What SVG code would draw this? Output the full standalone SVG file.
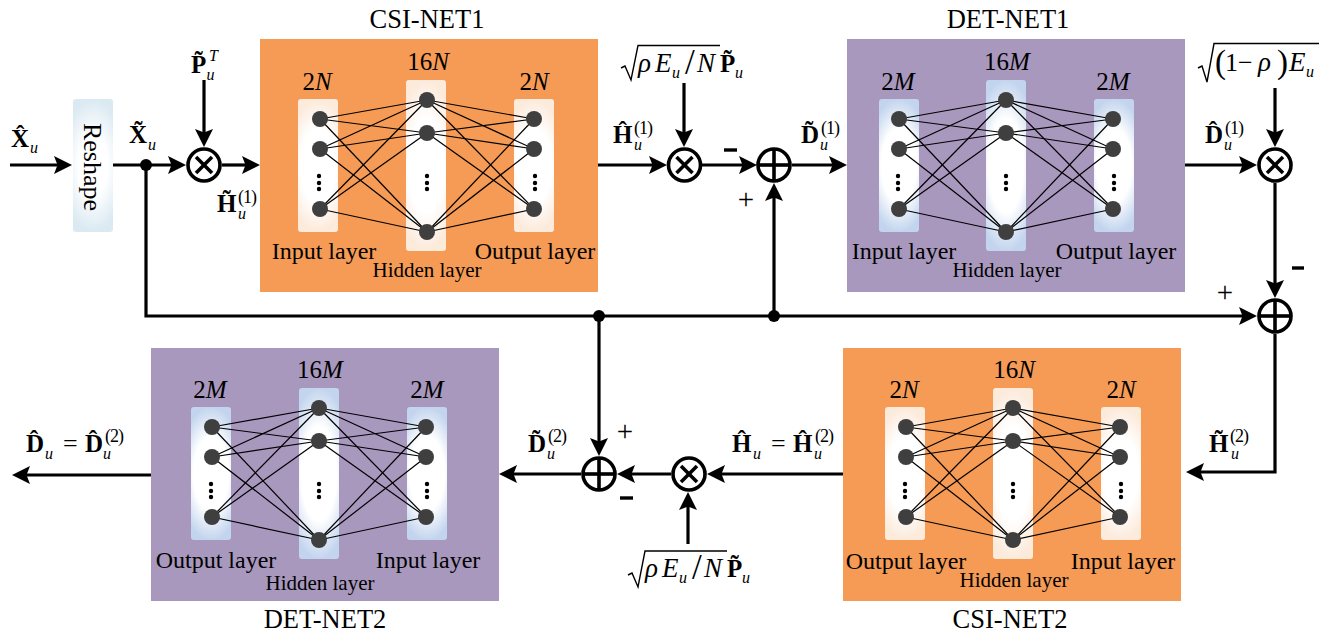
<svg xmlns="http://www.w3.org/2000/svg" width="1329" height="637" viewBox="0 0 1329 637">
<style>
text{font-family:"Liberation Serif","Times New Roman",serif;fill:#000}
.t{font-size:26.500px;text-anchor:middle}
.l{font-size:24px;text-anchor:middle}
.h{font-size:21px;text-anchor:middle}
.n{font-size:25px;text-anchor:middle}
.n tspan,.i{font-style:italic}
.b{font-size:25px;font-weight:bold}
.s{font-size:16px;font-style:italic}
.p{font-size:18px;letter-spacing:-1px}
.m{font-size:26px}
.mi{font-size:27px;font-style:italic}
.sl{font-size:35px}
.bp{font-size:33px}
.pm{font-size:29px;text-anchor:middle}
.c line,.c path{fill:none;stroke:#000;stroke-width:3.2}
.a{marker-end:url(#arrow)}
.c .mn{stroke-width:3.4}
.op circle{fill:#fff;stroke:#000;stroke-width:3.6}
.op line{stroke:#000;stroke-width:3.6}
.dot{fill:#000}
.rad{fill:none;stroke:#000;stroke-width:1.4}
.bg-o{fill:#F59B56}
.bg-p{fill:#A998BE}
.bar-o{fill:url(#go)}
.bar-p{fill:url(#gp)}
.w line{stroke:#000;stroke-width:1.2}
.w circle.k{fill:#3f3f3f}
</style>
<defs>
<marker id="arrow" markerUnits="userSpaceOnUse" markerWidth="20" markerHeight="20" refX="12" refY="10" orient="auto"><path d="M0 1 L18 10 L0 19 L3.500 10 Z" fill="#000"/></marker>
<radialGradient id="go" cx=".5" cy=".5" r=".5" gradientTransform="translate(.5 .5) scale(1.6 1) translate(-.5 -.5)"><stop offset=".55" stop-color="#fff"/><stop offset="1" stop-color="#FCEADB"/></radialGradient>
<radialGradient id="gp" cx=".5" cy=".5" r=".5" gradientTransform="translate(.5 .5) scale(1.6 1) translate(-.5 -.5)"><stop offset=".55" stop-color="#fff"/><stop offset="1" stop-color="#C3D5EE"/></radialGradient>
<radialGradient id="gr" cx=".5" cy=".5" r=".5" gradientTransform="translate(.5 .5) scale(1.6 1) translate(-.5 -.5)"><stop offset=".45" stop-color="#fff"/><stop offset="1" stop-color="#DAE9F2"/></radialGradient>
<g id="wires" class="w">
<line x1="0" y1="0" x2="107" y2="-19"/><line x1="0" y1="0" x2="107" y2="14"/><line x1="0" y1="0" x2="107" y2="113"/>
<line x1="0" y1="30" x2="107" y2="-19"/><line x1="0" y1="30" x2="107" y2="14"/><line x1="0" y1="30" x2="107" y2="113"/>
<line x1="0" y1="90" x2="107" y2="-19"/><line x1="0" y1="90" x2="107" y2="14"/><line x1="0" y1="90" x2="107" y2="113"/>
<line x1="214" y1="0" x2="107" y2="-19"/><line x1="214" y1="0" x2="107" y2="14"/><line x1="214" y1="0" x2="107" y2="113"/>
<line x1="214" y1="30" x2="107" y2="-19"/><line x1="214" y1="30" x2="107" y2="14"/><line x1="214" y1="30" x2="107" y2="113"/>
<line x1="214" y1="90" x2="107" y2="-19"/><line x1="214" y1="90" x2="107" y2="14"/><line x1="214" y1="90" x2="107" y2="113"/>
<circle class="k" cx="0" cy="0" r="8"/><circle class="k" cx="0" cy="30" r="8"/><circle class="k" cx="0" cy="90" r="8"/>
<circle class="k" cx="107" cy="-19" r="8"/><circle class="k" cx="107" cy="14" r="8"/><circle class="k" cx="107" cy="113" r="8"/>
<circle class="k" cx="214" cy="0" r="8"/><circle class="k" cx="214" cy="30" r="8"/><circle class="k" cx="214" cy="90" r="8"/>
<g fill="#000"><circle cx="-1" cy="57" r="2.200"/><circle cx="-1" cy="64" r="2.200"/><circle cx="-1" cy="70" r="2.200"/>
<circle cx="107" cy="57" r="2.200"/><circle cx="107" cy="64" r="2.200"/><circle cx="107" cy="70" r="2.200"/>
<circle cx="215" cy="57" r="2.200"/><circle cx="215" cy="64" r="2.200"/><circle cx="215" cy="70" r="2.200"/></g>
</g>
<g id="times" class="op"><circle r="16"/><line x1="-8" y1="-8" x2="8" y2="8"/><line x1="-8" y1="8" x2="8" y2="-8"/></g>
<g id="plus" class="op"><circle r="16"/><line x1="-16" y1="0" x2="16" y2="0"/><line x1="0" y1="-16" x2="0" y2="16"/></g>
</defs>

<g id="csi-net1">
<rect class="bg-o" x="260" y="39" width="338" height="253"/>
<rect class="bar-o" x="298" y="99" width="40" height="133" rx="3"/><rect class="bar-o" x="406" y="80" width="40" height="171" rx="3"/><rect class="bar-o" x="514" y="99" width="40" height="133" rx="3"/>
<use href="#wires" x="320" y="119"/>
<text class="t" x="427" y="28">CSI-NET1</text>
<text class="n" x="317" y="90">2<tspan>N</tspan></text><text class="n" x="428" y="70">16<tspan>N</tspan></text><text class="n" x="534" y="90">2<tspan>N</tspan></text>
<text class="l" x="324" y="259">Input layer</text><text class="h" x="427" y="277">Hidden layer</text><text class="l" x="535" y="259">Output layer</text>
</g>

<g id="det-net1">
<rect class="bg-p" x="847" y="39" width="338" height="253"/>
<rect class="bar-p" x="879" y="99" width="40" height="133" rx="3"/><rect class="bar-p" x="986" y="80" width="40" height="171" rx="3"/><rect class="bar-p" x="1094" y="99" width="40" height="133" rx="3"/>
<use href="#wires" x="899" y="119"/>
<text class="t" x="1008" y="28">DET-NET1</text>
<text class="n" x="898" y="90">2<tspan>M</tspan></text><text class="n" x="1007" y="70">16<tspan>M</tspan></text><text class="n" x="1113" y="90">2<tspan>M</tspan></text>
<text class="l" x="904" y="259">Input layer</text><text class="h" x="1007" y="277">Hidden layer</text><text class="l" x="1116" y="259">Output layer</text>
</g>

<g id="det-net2">
<rect class="bg-p" x="151" y="348" width="348" height="253"/>
<rect class="bar-p" x="191" y="407" width="40" height="133" rx="3"/><rect class="bar-p" x="299" y="388" width="40" height="171" rx="3"/><rect class="bar-p" x="407" y="407" width="40" height="133" rx="3"/>
<use href="#wires" x="212" y="427"/>
<text class="t" x="325" y="628">DET-NET2</text>
<text class="n" x="210" y="398">2<tspan>M</tspan></text><text class="n" x="320" y="378">16<tspan>M</tspan></text><text class="n" x="427" y="398">2<tspan>M</tspan></text>
<text class="l" x="216" y="568">Output layer</text><text class="h" x="320" y="590">Hidden layer</text><text class="l" x="428" y="568">Input layer</text>
</g>

<g id="csi-net2">
<rect class="bg-o" x="843" y="348" width="338" height="253"/>
<rect class="bar-o" x="885" y="407" width="40" height="133" rx="3"/><rect class="bar-o" x="993" y="388" width="40" height="171" rx="3"/><rect class="bar-o" x="1101" y="407" width="40" height="133" rx="3"/>
<use href="#wires" x="906" y="427"/>
<text class="t" x="1010" y="628">CSI-NET2</text>
<text class="n" x="904" y="398">2<tspan>N</tspan></text><text class="n" x="1014" y="378">16<tspan>N</tspan></text><text class="n" x="1121" y="398">2<tspan>N</tspan></text>
<text class="l" x="906" y="569">Output layer</text><text class="h" x="1014" y="587">Hidden layer</text><text class="l" x="1123" y="569">Input layer</text>
</g>

<g id="reshape">
<rect x="73" y="99" width="40" height="133" rx="3" fill="url(#gr)"/>
<text transform="translate(84 167) rotate(90)" font-size="26" text-anchor="middle">Reshape</text>
</g>

<g id="connectors" class="c">
<line class="a" x1="10" y1="165" x2="66" y2="165"/>
<line class="a" x1="113" y1="165" x2="180" y2="165"/>
<line class="a" x1="204" y1="80" x2="204" y2="141"/>
<line class="a" x1="222" y1="165" x2="254" y2="165"/>
<line class="a" x1="598" y1="165" x2="661" y2="165"/>
<line class="a" x1="684" y1="83" x2="684" y2="141"/>
<line class="a" x1="702" y1="165" x2="751" y2="165"/>
<line class="a" x1="792" y1="165" x2="841" y2="165"/>
<line class="a" x1="774" y1="316" x2="774" y2="189"/>
<line class="a" x1="1185" y1="165" x2="1251" y2="165"/>
<line class="a" x1="1275" y1="88" x2="1275" y2="141"/>
<line class="a" x1="1275" y1="183" x2="1275" y2="292"/>
<path class="a" d="M146 165 V316 H1251"/>
<path class="a" d="M1275 334 V472 H1192"/>
<line class="a" x1="599" y1="316" x2="599" y2="450"/>
<line class="a" x1="843" y1="474" x2="713" y2="474"/>
<line class="a" x1="671" y1="474" x2="623" y2="474"/>
<line class="a" x1="581" y1="474" x2="505" y2="474"/>
<line class="a" x1="688" y1="544" x2="688" y2="498"/>
<line class="a" x1="151" y1="475" x2="18" y2="475"/>
</g>

<g id="junctions"><circle class="dot" cx="146" cy="165" r="6"/><circle class="dot" cx="599" cy="316" r="6"/><circle class="dot" cx="774" cy="316" r="6"/></g>
<g id="mul1"><use href="#times" x="204" y="165"/></g>
<g id="mul2"><use href="#times" x="684.500" y="165"/></g>
<g id="mul3"><use href="#times" x="1275" y="165"/></g>
<g id="mul4"><use href="#times" x="689" y="474"/></g>
<g id="add1"><use href="#plus" x="774" y="165"/></g>
<g id="add2"><use href="#plus" x="1275" y="316"/></g>
<g id="add3"><use href="#plus" x="599" y="474"/></g>

<g id="signs" class="c">
<line class="mn" x1="724" y1="150" x2="737" y2="150"/>
<line class="mn" x1="1292" y1="268" x2="1304" y2="268"/>
<line class="mn" x1="620" y1="498" x2="633" y2="498"/>
</g>
<text class="pm" x="746" y="209">+</text>
<text class="pm" x="1225" y="302">+</text>
<text class="pm" x="625" y="441">+</text>

<g id="labels">
<text class="b" x="11" y="147">X̂</text><text class="s" x="30" y="153">u</text>
<text class="b" x="129" y="143">X̃</text><text class="s" x="148" y="150">u</text>
<text class="b" x="191" y="73">P̃</text><text class="s" x="206.500" y="80">u</text><text class="s" x="209" y="61">T</text>
<text class="b" x="217" y="212">H̃</text><text class="s" x="238" y="219">u</text><text class="p" x="238" y="203">(1)</text>
<text class="b" x="613" y="143">Ĥ</text><text class="s" x="634" y="150">u</text><text class="p" x="634" y="134">(1)</text>
<text class="b" x="801" y="143">D̃</text><text class="s" x="820" y="150">u</text><text class="p" x="821" y="134">(1)</text>
<text class="b" x="1205" y="143">D̂</text><text class="s" x="1224" y="150">u</text><text class="p" x="1225" y="134">(1)</text>
<text class="b" x="1209" y="452">H̃</text><text class="s" x="1231" y="459">u</text><text class="p" x="1230" y="442">(2)</text>
<text class="b" x="528" y="452">D̃</text><text class="s" x="547" y="459">u</text><text class="p" x="548" y="442">(2)</text>
<text class="b" x="732" y="452">Ĥ</text><text class="s" x="753" y="459">u</text><text class="m" x="771" y="452">=</text><text class="b" x="793" y="452">Ĥ</text><text class="s" x="814" y="459">u</text><text class="p" x="815" y="442">(2)</text>
<text class="b" x="26" y="452">D̂</text><text class="s" x="45" y="459">u</text><text class="m" x="63" y="452">=</text><text class="b" x="85" y="452">D̂</text><text class="s" x="103" y="459">u</text><text class="p" x="105" y="442">(2)</text>

<path class="rad" d="M621 68 L625 66 L631 80 L638 45.500 H720"/>
<text class="mi" x="638" y="72">ρ</text><text class="mi" x="655" y="72">E</text><text class="s" x="672" y="78">u</text><text class="sl" x="685" y="74">/</text><text class="mi" x="697" y="72">N</text><text class="b" x="720" y="72">P̃</text><text class="s" x="735" y="78">u</text>

<path class="rad" d="M628 575 L632 573 L638 587 L645 551 H727"/>
<text class="mi" x="645" y="577">ρ</text><text class="mi" x="662" y="577">E</text><text class="s" x="679" y="583">u</text><text class="sl" x="692" y="579">/</text><text class="mi" x="704" y="577">N</text><text class="b" x="727" y="577">P̃</text><text class="s" x="742" y="583">u</text>

<path class="rad" d="M1198 68 L1202 66 L1207 82 L1214 43.500 H1319"/>
<text class="bp" x="1215" y="73">(</text><text class="m" x="1225" y="71">1</text><text class="m" x="1238" y="71">−</text><text class="mi" x="1258" y="71">ρ</text><text class="bp" x="1277" y="73">)</text><text class="mi" x="1289" y="71">E</text><text class="s" x="1306" y="77">u</text>
</g>
</svg>
